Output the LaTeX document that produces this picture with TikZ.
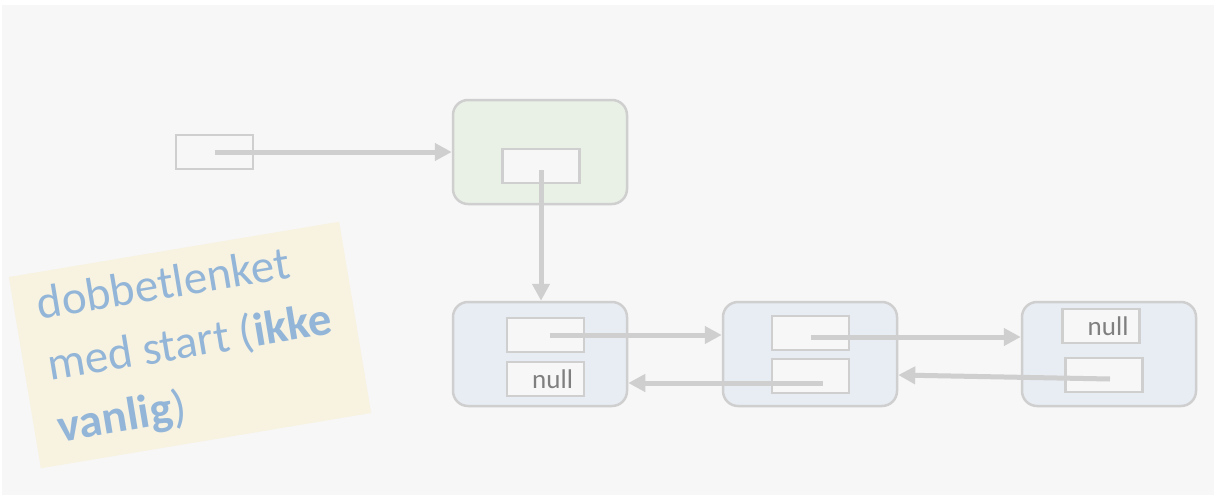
\documentclass[tikz,border=0pt]{standalone}
\usepackage{fontspec}
\setmainfont{Carlito}
\usetikzlibrary{arrows.meta}
\definecolor{linegray}{RGB}{208,207,207}
\definecolor{bggray}{RGB}{247,247,247}
\definecolor{headfill}{RGB}{233,241,231}
\definecolor{nodefill}{RGB}{232,237,244}
\definecolor{notefill}{RGB}{248,242,225}
\definecolor{noteblue}{RGB}{147,182,216}
\definecolor{nullgray}{RGB}{127,127,127}
\begin{document}
\begin{tikzpicture}[x=1pt,y=-1pt,
	box/.style={rectangle, draw=linegray, line width=2.5pt, fill=bggray, inner sep=0pt, minimum width=77pt, minimum height=34pt},
	nullbox/.style={box, text width=55pt, inner xsep=11pt, align=right, text=nullgray, font=\fontsize{27}{30}\selectfont},
	bignode/.style={rectangle, rounded corners=15pt, draw=linegray, line width=2.5pt, minimum width=174pt, minimum height=104pt},
	ptr/.style={-{Triangle[length=17pt,width=17pt]}, line width=5pt, draw=linegray}]

	\useasboundingbox (0,0) rectangle (1216,498);
	\fill[white] (0,0) rectangle (1216,498);
	\fill[bggray] (2,5) rectangle (1214,495);

	\node 	(start)		at	(214.5,152) 	[box]{};

	\node 	(head)		at	(540,152) 	[bignode, fill=headfill]{};
	\node 	(hfirst)	at	(541,166) 	[box]{};

	\node 	(n1)		at	(540,354) 	[bignode, fill=nodefill]{};
	\node 	(n1next)	at	(545.5,335) 	[box]{};
	\node 	(n1prev)	at	(545.5,379) 	[nullbox]{null};

	\node 	(n2)		at	(810,354) 	[bignode, fill=nodefill]{};
	\node 	(n2next)	at	(810.5,333) 	[box]{};
	\node 	(n2prev)	at	(810.5,376) 	[box]{};

	\node 	(n3)		at	(1109,354) 	[bignode, fill=nodefill]{};
	\node 	(n3next)	at	(1101,326) 	[nullbox]{null};
	\node 	(n3prev)	at	(1104,375) 	[box]{};

	\node 	(note)		at	(190,345) 	[rotate=9.5, fill=notefill, minimum width=335pt, minimum height=194pt, align=left, text=noteblue, font=\fontsize{47}{62}\selectfont]{dobbetlenket\\med start (\textbf{ikke}\\\textbf{vanlig})};

%	start points of the pointers
	\coordinate	(p1)	at	([yshift=-4]hfirst.center);
	\coordinate	(p2)	at	([xshift=4]n1next.center);
	\coordinate	(p3)	at	([xshift=12,yshift=-7]n2prev.center);
	\coordinate	(p4)	at	([yshift=-4]n2next.center);
	\coordinate	(p5)	at	([xshift=6,yshift=-4]n3prev.center);

	\draw[ptr]	(start.center)	to	(head.west);
	\draw[ptr]	(p1)	to	(p1 |- n1.north);
	\draw[ptr]	(p2)	to	(p2 -| n2.west);
	\draw[ptr]	(p3)	to	(p3 -| n1.east);
	\draw[ptr]	(p4)	to	(p4 -| n3.west);
	\draw[ptr]	(p5)	to	(n3prev.center -| n2.east);

\end{tikzpicture}
\end{document}
